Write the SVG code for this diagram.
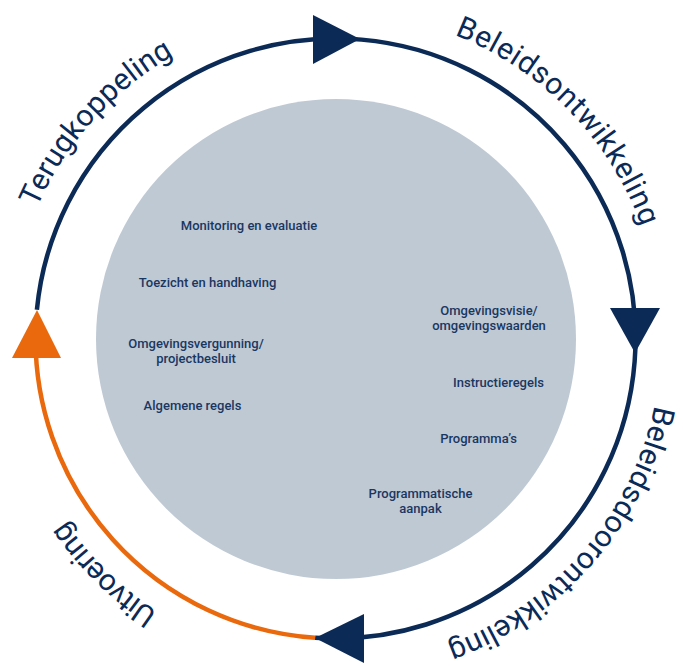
<svg xmlns="http://www.w3.org/2000/svg" width="683" height="666" viewBox="0 0 683 666">
  <style>
    .ring { fill: none; stroke-width: 4.5; stroke-linecap: butt; }
    .navy { stroke: #0b2a56; }
    .orange { stroke: #e9690c; }
    .head-navy { fill: #0b2a56; }
    .head-orange { fill: #e9690c; }
    .phase { font-family: Roboto, "Liberation Sans", sans-serif; font-size: 30px; fill: #0b2a56; }
    .item { font-family: Roboto, "Liberation Sans", sans-serif; font-size: 13px; font-weight: 500; fill: #1a3761; text-anchor: middle; }
  </style>
  <defs>
    <path id="p-terug" d="M 37.0 207.5 A 326 326 0 0 1 278.9 17.5"/>
    <path id="p-beleid" d="M 454.5 35.0 A 326 326 0 0 1 661.5 338.5"/>
    <path id="p-door" d="M 654.6 405.2 A 326 326 0 0 1 335.5 664.5"/>
    <path id="p-uit" d="M 157.5 611.6 A 326 326 0 0 1 14.5 395.1"/>
  </defs>
  <rect x="0" y="0" width="683" height="666" fill="#ffffff"/>

  <g id="core">
    <circle cx="336" cy="339" r="240" fill="#bfc9d4"/>
  </g>

  <g id="connectors">
    <path class="ring navy" d="M 36.9 309.8 A 300 300 0 1 1 315.1 637.8"/>
    <path class="ring orange" d="M 315.1 637.8 A 300 300 0 0 1 35.7 328.0"/>
    <polygon class="head-navy" points="313,15 313,64 360,39"/>
    <polygon class="head-navy" points="610,308 660,308 635,353"/>
    <polygon class="head-navy" points="364,614 364,663 315,638"/>
    <polygon class="head-orange" points="12,358 61,358 37,310"/>
  </g>

  <g id="label-terugkoppeling">
    <text class="phase"><textPath href="#p-terug" textLength="208" lengthAdjust="spacing">Terugkoppeling</textPath></text>
  </g>
  <g id="label-beleidsontwikkeling">
    <text class="phase"><textPath href="#p-beleid" textLength="276" lengthAdjust="spacing">Beleidsontwikkeling</textPath></text>
  </g>
  <g id="label-beleidsdoorontwikkeling">
    <text class="phase"><textPath href="#p-door" textLength="331" lengthAdjust="spacing">Beleidsdoorontwikkeling</textPath></text>
  </g>
  <g id="label-uitvoering">
    <text class="phase"><textPath href="#p-uit" textLength="130" lengthAdjust="spacing">Uitvoering</textPath></text>
  </g>

  <g id="item-monitoring"><text class="item" x="249" y="230">Monitoring en evaluatie</text></g>
  <g id="item-toezicht"><text class="item" x="207.5" y="287">Toezicht en handhaving</text></g>
  <g id="item-vergunning"><text class="item" x="196" y="348">Omgevingsvergunning/<tspan x="196" dy="15">projectbesluit</tspan></text></g>
  <g id="item-algemene"><text class="item" x="192.5" y="410">Algemene regels</text></g>
  <g id="item-visie"><text class="item" x="489" y="315">Omgevingsvisie/<tspan x="489" dy="15">omgevingswaarden</tspan></text></g>
  <g id="item-instructie"><text class="item" x="498.5" y="387">Instructieregels</text></g>
  <g id="item-programmas"><text class="item" x="478.5" y="443">Programma’s</text></g>
  <g id="item-programmatisch"><text class="item" x="420.5" y="498">Programmatische<tspan x="420.5" dy="15">aanpak</tspan></text></g>
</svg>
